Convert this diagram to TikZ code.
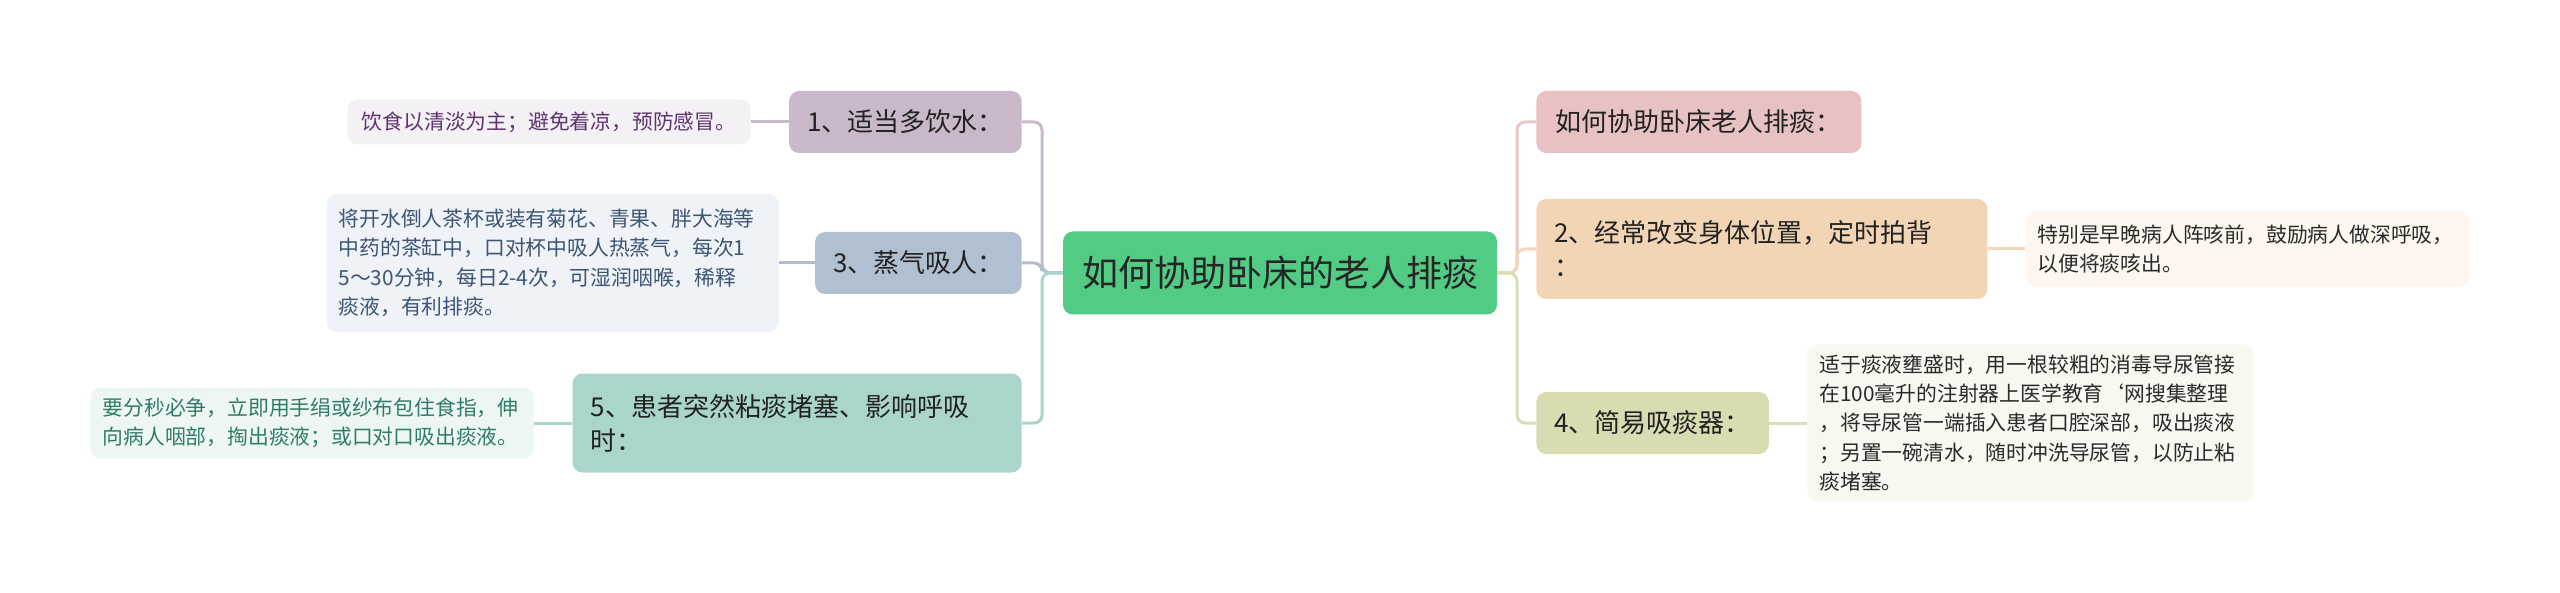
\documentclass[tikz,border=0pt]{standalone}
\usepackage{fontspec}
\setmainfont{Noto Sans CJK SC}
\definecolor{cfill}{HTML}{52CC85}
\definecolor{nAfill}{HTML}{C8B8CA}
\definecolor{nAline}{HTML}{C7BACB}
\definecolor{nBfill}{HTML}{B1C0D1}
\definecolor{nBline}{HTML}{AFBDCE}
\definecolor{nCfill}{HTML}{A9D5CB}
\definecolor{nCline}{HTML}{A9D5CB}
\definecolor{rAfill}{HTML}{E8C2C3}
\definecolor{rAline}{HTML}{E8C5C6}
\definecolor{rBfill}{HTML}{F2D5B4}
\definecolor{rBline}{HTML}{F2D6B7}
\definecolor{rCfill}{HTML}{D8DCB0}
\definecolor{rCline}{HTML}{DADDB5}
\definecolor{lAfill}{HTML}{F4F1F5}
\definecolor{lAtext}{HTML}{5F3370}
\definecolor{lBfill}{HTML}{EFF2F6}
\definecolor{lBtext}{HTML}{3D5676}
\definecolor{lCfill}{HTML}{EEF6F4}
\definecolor{lCtext}{HTML}{2E7D68}
\definecolor{mRBfill}{HTML}{FDF7F0}
\definecolor{mRCfill}{HTML}{F8F8F0}
\definecolor{darktext}{HTML}{222222}
\definecolor{leaftext}{HTML}{2A2A2A}
\tikzset{
  box/.style={rounded corners=5pt, inner ysep=0pt, text=darktext},
  central/.style={box, fill=cfill, minimum width=217pt, minimum height=41.5pt,
    font=\fontsize{18pt}{23pt}\selectfont, text=black!85},
  topic/.style={box, inner xsep=9pt, minimum height=31pt,
    font=\fontsize{13pt}{17pt}\selectfont},
  leaf/.style={box, inner xsep=6pt, font=\fontsize{10.4pt}{14.7pt}\selectfont},
  conn/.style={line width=1.5pt, rounded corners=4pt},
}
\begin{document}
\begin{tikzpicture}[x=0.5pt,y=-0.5pt]
\useasboundingbox (0,0) rectangle (2560,593);
\fill[white] (0,0) rectangle (2560,593);

% central
\node[central] (C) at (1280,273) {如何协助卧床的老人排痰};

% left topics
\node[topic, fill=nAfill, minimum width=116pt, anchor=east] (N1) at (1022,122) {1、适当多饮水：};
\node[topic, fill=nBfill, minimum width=102.5pt, anchor=east] (N3) at (1022,263) {3、蒸气吸人：};
\node[topic, fill=nCfill, text width=206.5pt, align=left, minimum height=49.5pt, anchor=east] (N5) at (1022,423) {5、患者突然粘痰堵塞、影响呼吸\\时：};

% right topics
\node[topic, fill=rAfill, minimum width=162.5pt, anchor=west] (R1) at (1536,122) {如何协助卧床老人排痰：};
\node[topic, fill=rBfill, text width=207.5pt, align=left, minimum height=50pt, anchor=west] (R2) at (1536,249) {2、经常改变身体位置，定时拍背\\：};
\node[topic, fill=rCfill, minimum width=116pt, anchor=west] (R4) at (1536,423) {4、简易吸痰器：};

% left leaves
\node[leaf, fill=lAfill, text=lAtext, minimum width=201.5pt, minimum height=22.5pt, anchor=east] (L1) at (751,122) {饮食以清淡为主；避免着凉，预防感冒。};
\node[leaf, fill=lBfill, text=lBtext, text width=214pt, align=left, minimum height=69pt, anchor=east] (L3) at (779,263) {将开水倒人茶杯或装有菊花、青果、胖大海等\\中药的茶缸中，口对杯中吸人热蒸气，每次1\\5～30分钟，每日2-4次，可湿润咽喉，稀释\\痰液，有利排痰。};
\node[leaf, fill=lCfill, text=lCtext, text width=209.5pt, align=left, minimum height=35.5pt, anchor=east] (L5) at (534,423) {要分秒必争，立即用手绢或纱布包住食指，伸\\向病人咽部，掏出痰液；或口对口吸出痰液。};

% right leaves
\node[leaf, fill=mRBfill, text=leaftext, text width=210pt, align=left, minimum height=38pt, anchor=west] (M2) at (2025,249) {特别是早晚病人阵咳前，鼓励病人做深呼吸，\\以便将痰咳出。};
\node[leaf, fill=mRCfill, text=leaftext, text width=211pt, align=left, minimum height=78.5pt, anchor=west] (M4) at (1807,423) {适于痰液壅盛时，用一根较粗的消毒导尿管接\\在100毫升的注射器上医学教育`网搜集整理\\，将导尿管一端插入患者口腔深部，吸出痰液\\；另置一碗清水，随时冲洗导尿管，以防止粘\\痰堵塞。};

% trunk coordinates
\coordinate (TL) at (1042,273);
\coordinate (TR) at (1517,273);

\begin{scope}[on background layer/.try]
\end{scope}

% left connectors
\draw[conn, nAline] (C.west) -- (TL) |- (N1.east);
\draw[conn, nBline] (C.west) -- (TL) |- (N3.east);
\draw[conn, nCline] (C.west) -- (TL) |- (N5.east);
% right connectors
\draw[conn, rAline] (C.east) -- (TR) |- (R1.west);
\draw[conn, rBline] (C.east) -- (TR) |- (R2.west);
\draw[conn, rCline] (C.east) -- (TR) |- (R4.west);

% leaf connectors
\draw[conn, nAline] (N1.west) -- (L1.east);
\draw[conn, nBline] (N3.west) -- (L3.east);
\draw[conn, nCline] (N5.west) -- (L5.east);
\draw[conn, rBline] (R2.east) -- (M2.west);
\draw[conn, rCline] (R4.east) -- (M4.west);
\end{tikzpicture}
\end{document}
